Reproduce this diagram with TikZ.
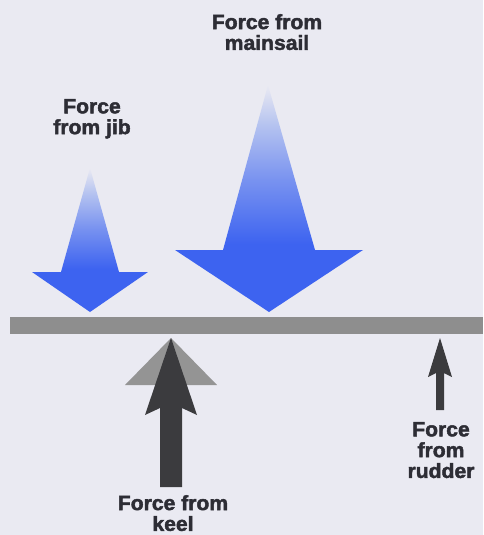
\documentclass[tikz,border=0pt]{standalone}
\usepackage{fontspec}
\setmainfont{Liberation Sans}
\newfontfamily\forcefont{Liberation Sans Bold}[FakeBold=2.2, FakeStretch=1.03]
\definecolor{paper}{HTML}{EAEAF2}
\definecolor{sailblue}{HTML}{3D63F0}
\definecolor{sailmid}{HTML}{7892F0}
\definecolor{saillight}{HTML}{B4C2F0}
\definecolor{hullgray}{HTML}{8E8E8E}
\definecolor{shadowgray}{HTML}{949494}
\definecolor{darkforce}{HTML}{3B3B3E}
\definecolor{inkgray}{HTML}{2D2D35}
% the path box takes the part from 25bp to 75bp
\pgfdeclareverticalshading{sailfade}{100bp}{color(0bp)=(sailblue); color(40bp)=(sailblue); color(54bp)=(sailmid); color(66bp)=(saillight); color(75bp)=(paper); color(100bp)=(paper)}

\begin{document}
\begin{tikzpicture}[
    x=1pt, y=-1pt,
    forcetext/.style={
        font=\forcefont\fontsize{20.5}{20.8}\selectfont,
        text=inkgray,
        align=center,
        inner sep=0pt,
        anchor=north
    },
    sail/.style={shading=sailfade},
    hull/.style={fill=hullgray},
    push/.style={fill=darkforce}
]

% Background
\fill[paper] (0,0) rectangle (483,535);
\useasboundingbox (0,0) rectangle (483,535);

% Labels
\node[forcetext] (mainlabel) at (267,14) {Force from\\mainsail};
\node[forcetext] (jiblabel) at (92,99) {Force\\from jib};
\node[forcetext] (keellabel) at (173,495) {Force from\\keel};
\node[forcetext] (rudderlabel) at (441,422) {Force\\from\\rudder};

% Tips of the forces
\coordinate (jibtip) at (90,312);
\coordinate (maintip) at (269,312);
\coordinate (keeltip) at (171,338);
\coordinate (ruddertip) at (440,338);

% Sail forces (down)
\shade[sail] (90,168) -- (119,272) -- (148,272) -- (jibtip)
    -- (32,272) -- (61,272) -- cycle;
\shade[sail] (268,85) -- (315,250) -- (363,250) -- (maintip)
    -- (175,250) -- (223,250) -- cycle;

% Hull line
\fill[hull] (10,317) rectangle (483,334);

% Keel force (up), with its lighter head behind
\fill[fill=shadowgray] (keeltip) -- (217,385) -- (125,385) -- cycle;
\fill[push] (keeltip) -- (197,415) -- (182,408) -- (182,487)
    -- (160,487) -- (160,408) -- (145,415) -- cycle;

% Rudder force (up)
\fill[push] (ruddertip) -- (452,377) -- (444,373) -- (444,410)
    -- (436,410) -- (436,373) -- (428,377) -- cycle;

\end{tikzpicture}
\end{document}
